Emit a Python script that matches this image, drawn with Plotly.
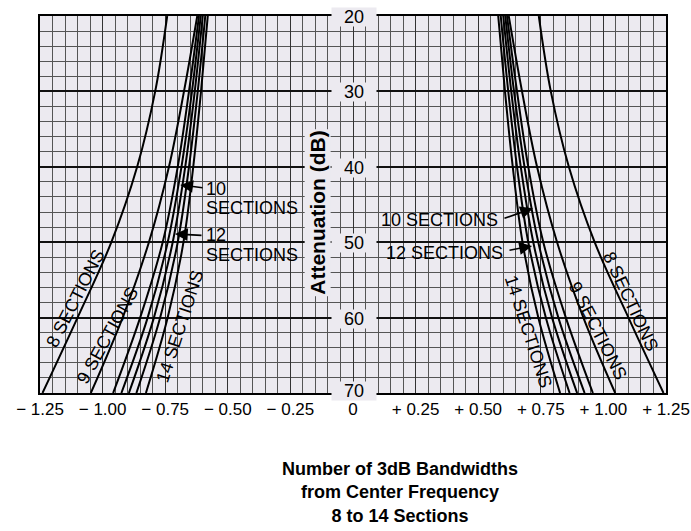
import plotly.graph_objects as go

# ---------------- data ----------------
atten_db = [20, 30, 40, 50, 60, 70]          # attenuation levels (dB)
sections = [8, 9, 10, 11, 12, 13, 14]

# distance from centre (number of 3 dB bandwidths) at each attenuation level
bw_8 = [0.742, 0.790, 0.862, 0.965, 1.100, 1.240]
bw_9 = [0.622, 0.675, 0.735, 0.815, 0.920, 1.047]
bw_10 = [0.615, 0.655, 0.700, 0.760, 0.850, 0.958]
bw_11 = [0.608, 0.643, 0.685, 0.740, 0.820, 0.925]
bw_12 = [0.600, 0.632, 0.670, 0.720, 0.795, 0.895]
bw_13 = [0.590, 0.620, 0.655, 0.700, 0.770, 0.865]
bw_14 = [0.580, 0.607, 0.638, 0.677, 0.740, 0.827]
curves = [bw_8, bw_9, bw_10, bw_11, bw_12, bw_13, bw_14]

x_tick_vals = [-1.25, -1.0, -0.75, -0.5, -0.25, 0, 0.25, 0.5, 0.75, 1.0, 1.25]
x_tick_text = ["\u2212 1.25", "\u2212 1.00", "\u2212 0.75", "\u2212 0.50", "\u2212 0.25", "0",
               "+ 0.25", "+ 0.50", "+ 0.75", "+ 1.00", "+ 1.25"]
y_tick_vals = [20, 30, 40, 50, 60, 70]
y_tick_text = ["20", "30", "40", "50", "60", "70"]

# rotated curve labels: text, x, y, angle
rot_labels = [
    ("8 SECTIONS", -1.11, 57.5, -63),
    ("9 SECTIONS", -0.982, 62.4, -61),
    ("14 SECTIONS", -0.691, 61.1, -72),
    ("14 SECTIONS", 0.699, 61.8, 72),
    ("9 SECTIONS", 0.978, 61.8, 63),
    ("8 SECTIONS", 1.11, 57.9, 65),
]
# arrows: tail x, tail y, tip x, tip y
arrows = [
    (-0.595, 42.8, -0.69, 42.4),
    (-0.599, 49.1, -0.711, 48.9),
    (0.599, 46.9, 0.719, 45.5),
    (0.619, 51.1, 0.715, 50.5),
]
# plain text labels: text, x, y, anchor
plain_labels = [
    ("10", -0.597, 42.9, "left"),
    ("SECTIONS", -0.597, 45.4, "left"),
    ("12", -0.597, 49.1, "left"),
    ("SECTIONS", -0.597, 51.7, "left"),
    ("10 SECTIONS", 0.347, 47.1, "center"),
    ("12 SECTIONS", 0.367, 51.4, "center"),
]

PLOT_BG = "#ECEAF0"
FONT = "Liberation Sans, Arial, sans-serif"

fig = go.Figure()
for n, vals in zip(sections, curves):
    for sign in (-1, 1):
        fig.add_trace(go.Scatter(
            x=[sign * v for v in vals], y=atten_db, mode="lines",
            line=dict(color="black", width=2, shape="spline", smoothing=1.0),
            showlegend=False, hoverinfo="skip", name=f"{n} sections"))

ann = []
for t, x, y, a in rot_labels:
    ann.append(dict(x=x, y=y, text=t, showarrow=False, textangle=a,
                    font=dict(size=18, color="black", family=FONT)))
for tx, ty, hx, hy in arrows:
    ann.append(dict(x=hx, y=hy, ax=tx, ay=ty, axref="x", ayref="y", text="",
                    showarrow=True, arrowhead=2, arrowsize=1.6, arrowwidth=1.6,
                    arrowcolor="black"))
for t, x, y, anc in plain_labels:
    ann.append(dict(x=x, y=y, text=t, showarrow=False, xanchor=anc,
                    font=dict(size=18, color="black", family=FONT)))
for v, t in zip(y_tick_vals, y_tick_text):
    ann.append(dict(x=0.005, y=v, text=t, showarrow=False, bgcolor=PLOT_BG,
                    width=44, height=18, borderpad=0,
                    yshift=2 if v == 70 else -1,
                    font=dict(size=18, color="black", family=FONT)))
ann.append(dict(x=-0.14, y=46.1, text="Attenuation (dB)", textangle=-90,
                showarrow=False, bgcolor=PLOT_BG,
                font=dict(size=21, color="black", family=FONT, weight="bold")))
ann.append(dict(x=0.575, xref="paper", y=-0.263, yref="paper", yanchor="middle",
                text="<b>Number of 3dB Bandwidths<br>from Center Frequency<br>8 to 14 Sections</b>",
                showarrow=False, align="center",
                font=dict(size=18, color="black", family=FONT)))

fig.update_layout(
    width=691, height=531,
    margin=dict(l=40, r=25, t=16, b=138),
    paper_bgcolor="white", plot_bgcolor=PLOT_BG,
    annotations=ann,
    xaxis=dict(range=[-1.25, 1.25], tickvals=x_tick_vals, ticktext=x_tick_text,
               tickfont=dict(size=17, color="black", family=FONT), automargin=False,
               showgrid=True, gridcolor="#333", gridwidth=1.1,
               minor=dict(dtick=0.05, tick0=-1.25, showgrid=True,
                          gridcolor="#555", gridwidth=0.8),
               zeroline=False, showline=True, linecolor="black", linewidth=1.5,
               mirror=True),
    yaxis=dict(range=[70, 20], dtick=10, showticklabels=False, automargin=False,
               showgrid=True, gridcolor="#111", gridwidth=1.6,
               minor=dict(dtick=2, tick0=20, showgrid=True,
                          gridcolor="#555", gridwidth=0.8),
               zeroline=False, showline=True, linecolor="black", linewidth=1.5,
               mirror=True),
)

fig.write_html("out.html", config={"displayModeBar": False},
               post_script="document.body.style.margin='0';")
